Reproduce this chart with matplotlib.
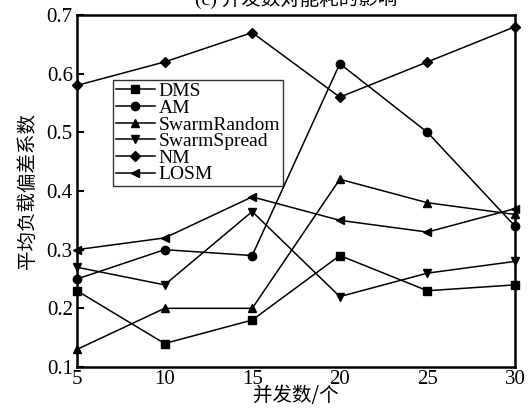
import numpy as np
import matplotlib.pyplot as plt

plt.rcParams['font.family'] = ['Liberation Serif', 'Noto Sans CJK SC']

x = [5, 10, 15, 20, 25, 30]
dms = [0.23, 0.14, 0.18, 0.29, 0.23, 0.24]
am = [0.25, 0.30, 0.29, 0.617, 0.50, 0.34]
swarm_random = [0.13, 0.20, 0.20, 0.42, 0.38, 0.36]
swarm_spread = [0.27, 0.24, 0.365, 0.22, 0.26, 0.28]
nm = [0.58, 0.62, 0.67, 0.56, 0.62, 0.68]
losm = [0.30, 0.32, 0.39, 0.35, 0.33, 0.37]

series = [("DMS", dms, "s"), ("AM", am, "o"), ("SwarmRandom", swarm_random, "^"),
          ("SwarmSpread", swarm_spread, "v"), ("NM", nm, "D"), ("LOSM", losm, "<")]

fig = plt.figure(figsize=(5.29, 4.15), dpi=100)
ax = fig.add_axes([77/529, 1 - 367/415, (515-77)/529, (367-15)/415])

for name, vals, m in series:
    ms = 5 if m == "D" else 6
    ax.plot(x, vals, color="black", lw=1.1, marker=m, markersize=ms, label=name, clip_on=False)

ax.set_xlim(5, 30)
ax.set_ylim(0.1, 0.7)
ax.set_xticks(x)
ax.set_yticks([0.1, 0.2, 0.3, 0.4, 0.5, 0.6, 0.7])
ax.tick_params(axis='y', direction='in', length=5, width=1.5, labelsize=15, pad=3)
ax.tick_params(axis='x', direction='in', length=0, labelsize=15, pad=2)
for s in ax.spines.values():
    s.set_linewidth(1.8)

ax.set_xlabel("并发数/个", fontsize=14, family=['Noto Sans CJK SC'], labelpad=-3)
ax.set_ylabel("平均负载偏差系数", fontsize=14, family=['Noto Sans CJK SC'], labelpad=6)

fig.text(0.56, 1 - 9/415, "(c) 并发数对能耗的影响", fontsize=14, ha='center', va='bottom',
         family=['Liberation Serif', 'Noto Sans CJK SC'])

leg = ax.legend(loc='upper left', bbox_to_anchor=(0.082, 0.816), fontsize=14, frameon=True,
                fancybox=False, edgecolor='black', handlelength=2.0, handletextpad=0.2,
                labelspacing=-0.05, borderpad=0.15, borderaxespad=0)
leg.get_frame().set_linewidth(1.0)

fig.savefig("out.png", dpi=100)
